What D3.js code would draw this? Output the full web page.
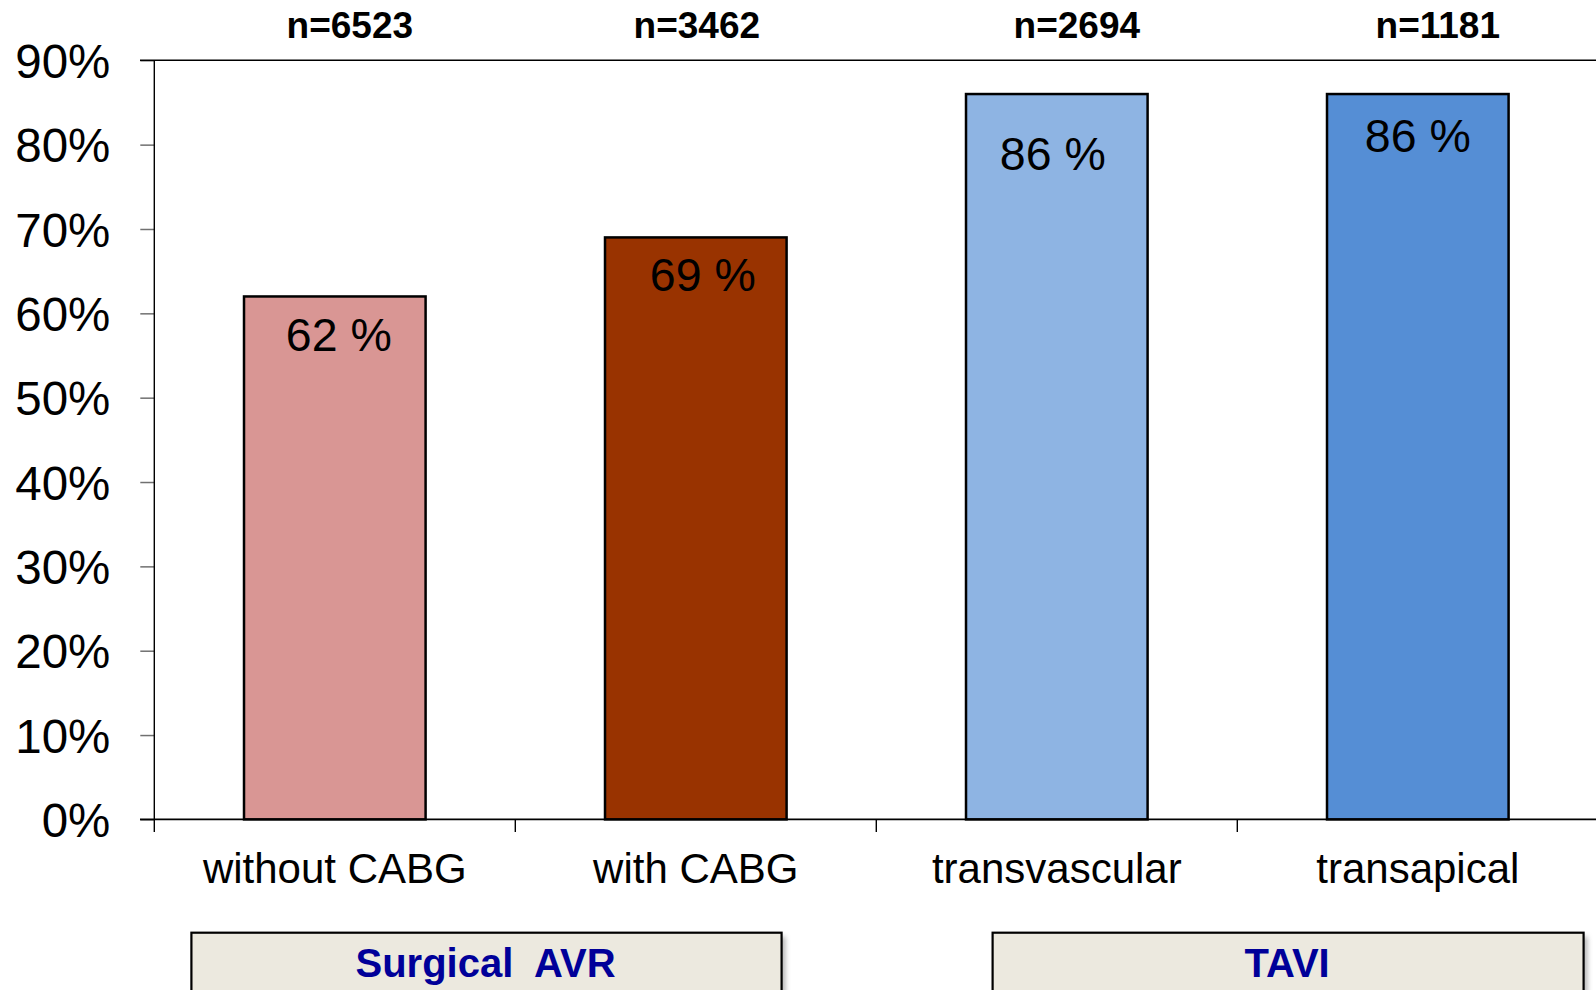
<!DOCTYPE html>
<html>
<head>
<meta charset="utf-8">
<script src="https://cdn.jsdelivr.net/npm/d3@7/dist/d3.min.js"></script>
<style>
  html, body { margin: 0; padding: 0; background: #ffffff; }
  svg { display: block; }
  text { font-family: Arial, "Liberation Sans", sans-serif; }
</style>
</head>
<body>
<svg id="chart" width="1596" height="990"></svg>
<script>
// Share of patients (%) per procedure
const categories = ["without CABG", "with CABG", "transvascular", "transapical"];
const values = [62, 69, 86, 86];
const sampleSizes = ["n=6523", "n=3462", "n=2694", "n=1181"];
const barColors = ["#D99694", "#993300", "#8EB4E3", "#558ED5"];
const yTicks = [0, 10, 20, 30, 40, 50, 60, 70, 80, 90];
const groups = [
  { label: "Surgical  AVR", first: 0, last: 1 },
  { label: "TAVI", first: 2, last: 3 }
];

// layout tweaks for the text placed on / above each bar
const valueLabelNudge = [[4, 55], [7, 54], [-4, 76], [0, 58]];
const nLabelNudge = [15, 1, 20, 20];
const groupBoxInset = [[-52.6, -5], [26.6, 75]];

const W = 1596, H = 990;
const svg = d3.select("#chart");

const x = d3.scaleBand()
  .domain(categories)
  .range([154.3, 1598.3])
  .paddingInner(0.497)
  .paddingOuter(0.2485);

const y = d3.scaleLinear().domain([0, 90]).range([819.4, 60.3]);

const axisX = 154.3;
const gap = x.step() - x.bandwidth();

// y axis ticks and labels
const yAxis = svg.append("g")
  .attr("transform", `translate(${axisX},0)`)
  .call(d3.axisLeft(y).tickValues(yTicks).tickSize(14).tickPadding(30).tickFormat(d => d + "%"));
yAxis.select(".domain").remove();
yAxis.selectAll(".tick line").attr("stroke", "#707070").attr("stroke-width", 1.5);
yAxis.selectAll(".tick text")
  .attr("fill", "#000")
  .style("font-size", "47.5px")
  .attr("dy", "0.36em");

// bars
svg.append("g").selectAll("rect")
  .data(values)
  .join("rect")
  .attr("x", (d, i) => x(categories[i]))
  .attr("y", d => y(d))
  .attr("width", x.bandwidth())
  .attr("height", d => y(0) - y(d))
  .attr("fill", (d, i) => barColors[i])
  .attr("stroke", "#000")
  .attr("stroke-width", 2.5);

// frame lines: top at 90%, baseline at 0%, vertical axis
svg.append("line")
  .attr("x1", 140).attr("x2", W)
  .attr("y1", y(90)).attr("y2", y(90))
  .attr("stroke", "#000").attr("stroke-width", 1.6);
svg.append("line")
  .attr("x1", 140).attr("x2", W)
  .attr("y1", y(0)).attr("y2", y(0))
  .attr("stroke", "#000").attr("stroke-width", 1.6);
svg.append("line")
  .attr("x1", axisX).attr("x2", axisX)
  .attr("y1", y(90)).attr("y2", y(0) + 12.5)
  .attr("stroke", "#000").attr("stroke-width", 1.4);

// category boundary ticks below the baseline
svg.append("g").selectAll("line")
  .data(categories.slice(1))
  .join("line")
  .attr("x1", d => x(d) - gap / 2)
  .attr("x2", d => x(d) - gap / 2)
  .attr("y1", y(0))
  .attr("y2", y(0) + 12.5)
  .attr("stroke", "#000").attr("stroke-width", 1.4);

// category labels
const xAxis = svg.append("g")
  .attr("transform", `translate(0,${y(0)})`)
  .call(d3.axisBottom(x).tickSize(0).tickPadding(34));
xAxis.select(".domain").remove();
xAxis.selectAll(".tick text")
  .attr("fill", "#000")
  .style("font-size", "42px");

// value labels inside bars
svg.append("g").selectAll("text")
  .data(values)
  .join("text")
  .attr("x", (d, i) => x(categories[i]) + x.bandwidth() / 2 + valueLabelNudge[i][0])
  .attr("y", (d, i) => y(d) + valueLabelNudge[i][1])
  .attr("text-anchor", "middle")
  .style("font-size", "46.5px")
  .attr("fill", "#000")
  .text(d => d + " %");

// sample sizes above the plot
svg.append("g").selectAll("text")
  .data(sampleSizes)
  .join("text")
  .attr("x", (d, i) => x(categories[i]) + x.bandwidth() / 2 + nLabelNudge[i])
  .attr("y", 37.5)
  .attr("text-anchor", "middle")
  .style("font-size", "37px")
  .style("font-weight", "bold")
  .attr("fill", "#000")
  .text(d => d);

// group boxes under the category labels
const defs = svg.append("defs");
defs.append("filter").attr("id", "boxShadow")
  .attr("x", "-5%").attr("y", "-20%").attr("width", "115%").attr("height", "150%")
  .append("feGaussianBlur").attr("stdDeviation", 2.5);

const boxTop = 932.7;
const gBox = svg.append("g").selectAll("g")
  .data(groups)
  .join("g");

const boxLeft = (g, i) => x(categories[g.first]) + groupBoxInset[i][0];
const boxRight = (g, i) => x(categories[g.last]) + x.bandwidth() + groupBoxInset[i][1];

gBox.append("rect")
  .attr("x", (g, i) => boxLeft(g, i) + 4)
  .attr("y", boxTop + 4)
  .attr("width", (g, i) => boxRight(g, i) - boxLeft(g, i))
  .attr("height", 80)
  .attr("fill", "#9a9a9a")
  .attr("opacity", 0.7)
  .attr("filter", "url(#boxShadow)");

gBox.append("rect")
  .attr("x", (g, i) => boxLeft(g, i))
  .attr("y", boxTop)
  .attr("width", (g, i) => boxRight(g, i) - boxLeft(g, i))
  .attr("height", 80)
  .attr("fill", "#ECE9DF")
  .attr("stroke", "#000")
  .attr("stroke-width", 2.2);

gBox.append("text")
  .attr("x", (g, i) => (boxLeft(g, i) + boxRight(g, i)) / 2 - 1)
  .attr("y", 977)
  .attr("text-anchor", "middle")
  .style("font-size", "40px")
  .style("font-weight", "bold")
  .style("white-space", "pre")
  .attr("fill", "#000099")
  .text(g => g.label);
</script>
</body>
</html>
